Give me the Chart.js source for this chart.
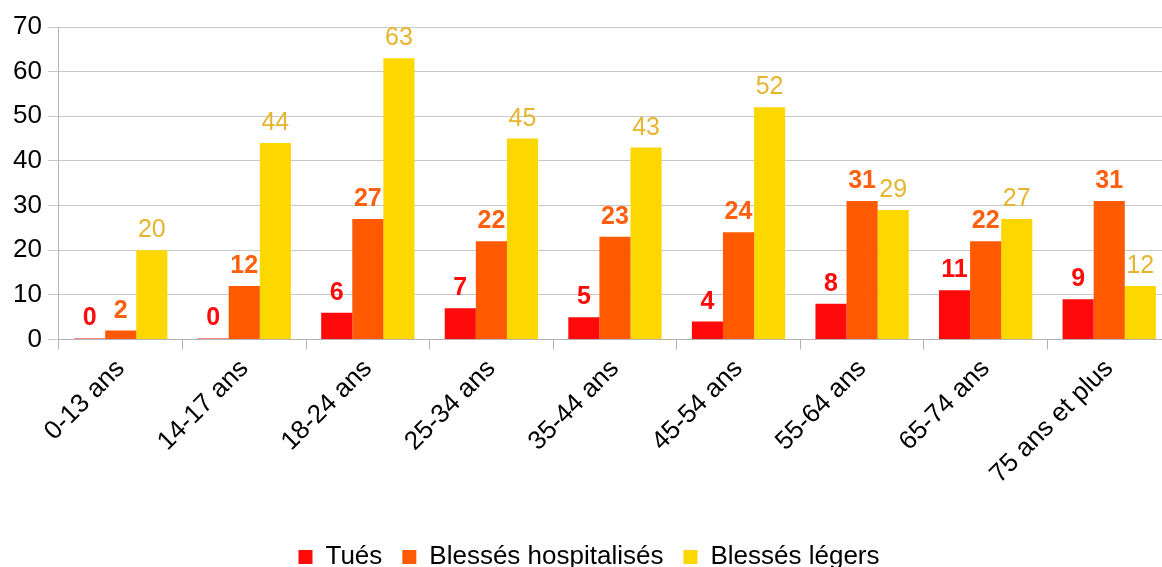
<!DOCTYPE html>
<html>
<head>
<meta charset="utf-8">
<script src="https://cdn.jsdelivr.net/npm/chart.js@4.4.1/dist/chart.umd.min.js"></script>
<style>
html,body{margin:0;padding:0;background:#fff;overflow:hidden;width:1162px;height:567px;}
#wrap{position:relative;width:1171px;height:580px;}
</style>
</head>
<body>
<div id="wrap"><canvas id="c"></canvas></div>
<script>
const categories = ["0-13 ans","14-17 ans","18-24 ans","25-34 ans","35-44 ans","45-54 ans","55-64 ans","65-74 ans","75 ans et plus"];
const tues = [0,0,6,7,5,4,8,11,9];
const hospitalises = [2,12,27,22,23,24,31,22,31];
const legers = [20,44,63,45,43,52,29,27,12];
const yTicks = [0,10,20,30,40,50,60,70];

const FONT = "'Liberation Sans', Arial, sans-serif";

const labelPlugin = {
  id: 'valueLabels',
  afterDatasetsDraw(chart) {
    const ctx = chart.ctx;
    chart.data.datasets.forEach((ds, i) => {
      const meta = chart.getDatasetMeta(i);
      ctx.save();
      ctx.font = (ds.labelBold ? 'bold ' : '') + '25px ' + FONT;
      ctx.fillStyle = ds.labelColor;
      ctx.textAlign = 'center';
      ctx.textBaseline = 'alphabetic';
      meta.data.forEach((el, j) => {
        ctx.fillText(String(ds.data[j]), el.x, el.y - 13);
      });
      ctx.restore();
    });
  }
};

new Chart(document.getElementById('c'), {
  type: 'bar',
  data: {
    labels: categories,
    datasets: [
      {label: 'Tués', data: tues, backgroundColor: '#ff0a0a', labelColor: '#ff0a0a', labelBold: true, minBarLength: 1},
      {label: 'Blessés hospitalisés', data: hospitalises, backgroundColor: '#ff5a00', labelColor: '#ff6010', labelBold: true},
      {label: 'Blessés légers', data: legers, backgroundColor: '#fcd800', labelColor: '#e6b52e', labelBold: false}
    ]
  },
  options: {
    responsive: true,
    maintainAspectRatio: false,
    animation: false,
    devicePixelRatio: 1,
    categoryPercentage: 0.755,
    barPercentage: 1.0,
    layout: {padding: {left: 7, top: 27, right: 0, bottom: 0}},
    scales: {
      x: {
        offset: true,
        afterFit(axis) { axis.height += 30; },
        grid: {display: true, drawOnChartArea: false, drawTicks: true, tickLength: 10, color: '#b3b3b3', offset: true},
        border: {display: true, color: '#b3b3b3'},
        ticks: {color: '#000', font: {family: FONT, size: 26}, maxRotation: 45, minRotation: 45, padding: 4, autoSkip: false}
      },
      y: {
        min: 0, max: 70,
        afterBuildTicks(axis) { axis.ticks = yTicks.map(v => ({value: v})); },
        grid: {color: '#c8c8c8', tickLength: 11, drawTicks: true},
        border: {display: true, color: '#b3b3b3'},
        ticks: {color: '#000', font: {family: FONT, size: 26}, padding: 6}
      }
    },
    plugins: {
      legend: {
        position: 'bottom',
        labels: {color: '#000', font: {family: FONT, size: 26}, boxWidth: 14, boxHeight: 14, padding: 20}
      },
      tooltip: {enabled: false}
    }
  },
  plugins: [labelPlugin]
});
</script>
</body>
</html>
